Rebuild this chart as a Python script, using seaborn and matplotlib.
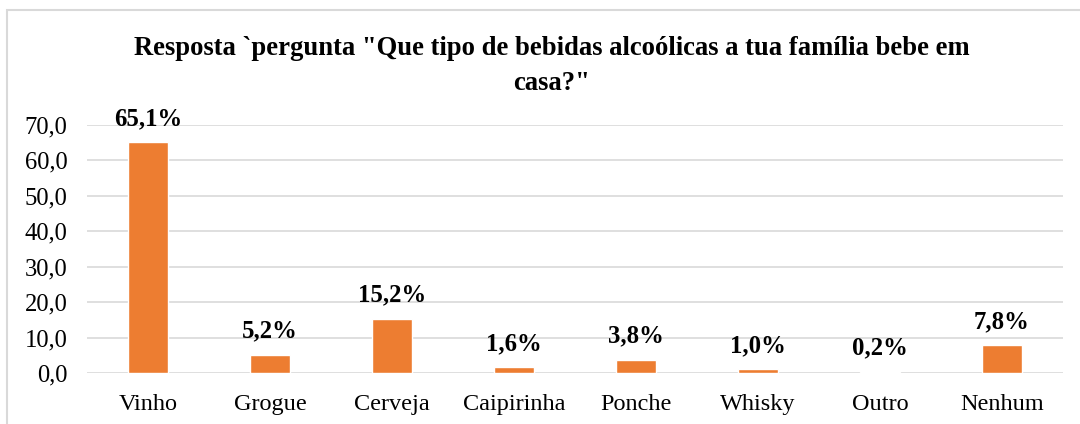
import matplotlib
matplotlib.use("Agg")
import matplotlib.pyplot as plt
import seaborn as sns
import pandas as pd
from matplotlib.patches import Rectangle

categories = ["Vinho", "Grogue", "Cerveja", "Caipirinha", "Ponche", "Whisky", "Outro", "Nenhum"]
values = [65.1, 5.2, 15.2, 1.6, 3.8, 1.0, 0.2, 7.8]
yticks = [0, 10, 20, 30, 40, 50, 60, 70]
title = 'Resposta `pergunta "Que tipo de bebidas alcoólicas a tua família bebe em\ncasa?"'

sns.set_theme(style="white")
plt.rcParams["font.family"] = ["Liberation Serif", "DejaVu Serif"]
plt.rcParams["text.color"] = "black"
plt.rcParams["xtick.color"] = "black"
plt.rcParams["ytick.color"] = "black"

df = pd.DataFrame({"cat": categories, "val": values})

fig = plt.figure(figsize=(10.8, 4.24), dpi=100)
ax = fig.add_axes([87 / 1080, 1 - 373 / 424, (1063 - 87) / 1080, (373 - 125) / 424])

sns.barplot(data=df, x="cat", y="val", color="#ED7D31", width=0.32, saturation=1, ax=ax, zorder=3)

ax.set_ylim(0, 70)
ax.set_yticks(yticks)
ax.set_yticklabels([f"{v:.1f}".replace(".", ",") for v in yticks], fontsize=17.7)
ax.tick_params(axis="x", labelsize=17.5, pad=15, length=0)
ax.tick_params(axis="y", pad=14, length=0)
ax.set_xlabel("")
ax.set_ylabel("")
ax.grid(axis="y", color="#D9D9D9", linewidth=1.2, zorder=0)
for s in ax.spines.values():
    s.set_visible(False)

labels = [f"{v:.1f}%".replace(".", ",") for v in values]
ax.bar_label(ax.containers[0], labels=labels, padding=9, fontsize=17.8, fontweight="bold",
             color="black", clip_on=False)

fig.text(552 / 1080, 1 - 66 / 424, title, ha="center", va="center", fontsize=19.2,
         fontweight="bold", linespacing=1.5, color="black")

fig.patches.append(Rectangle((7 / 1080, -0.1), 1.2, 1 - 10 / 424 + 0.1, transform=fig.transFigure,
                             fill=False, edgecolor="#D9D9D9", linewidth=1.5))

fig.savefig("out.png", dpi=100)
